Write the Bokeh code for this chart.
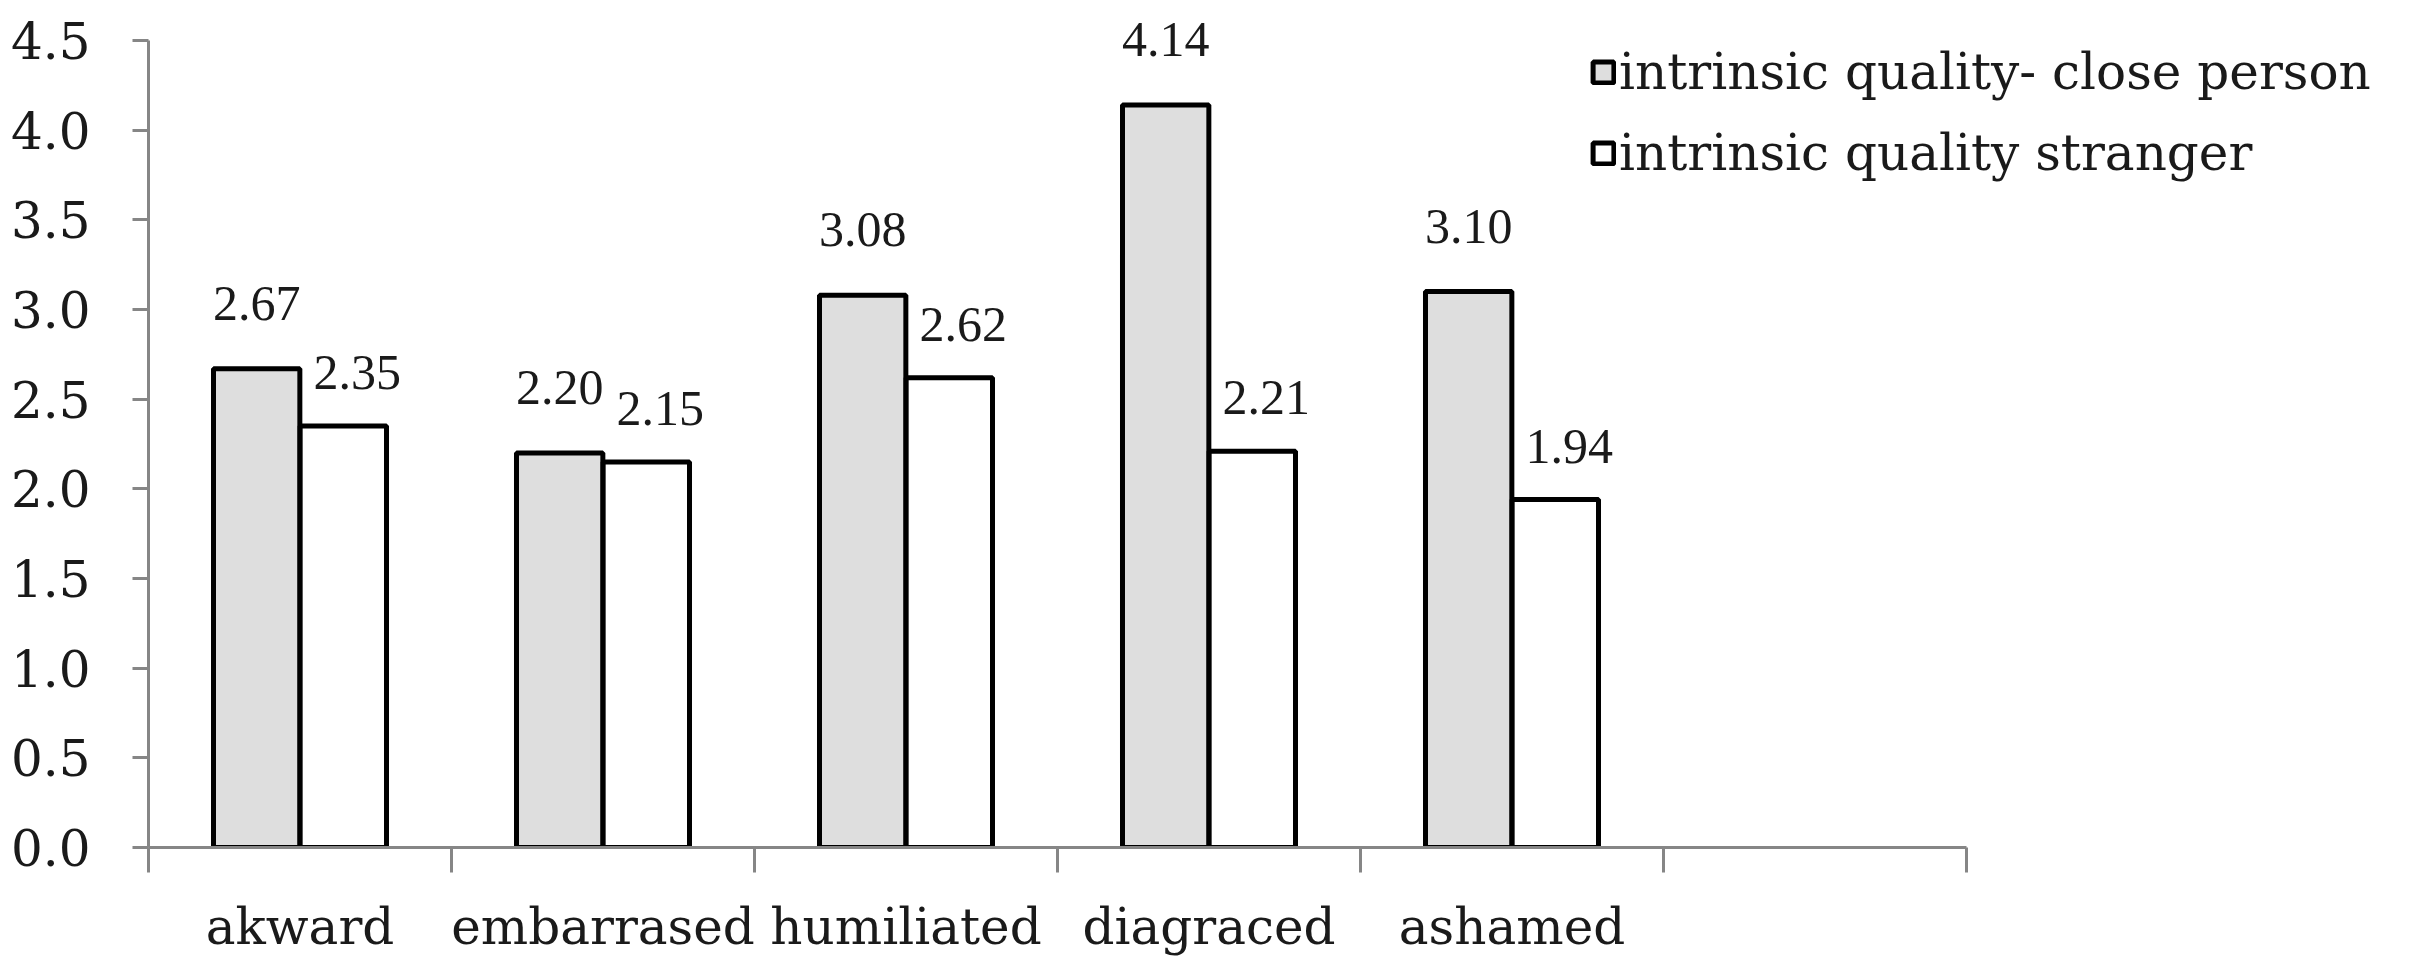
from bokeh.plotting import figure
from bokeh.models import (ColumnDataSource, FixedTicker, LabelSet, Legend,
                          LegendItem, Range1d)
from bokeh.transform import dodge
from bokeh.embed import file_html
from bokeh.resources import INLINE

# ---------------- data ----------------
categories = ["akward", "embarrased", "humiliated", "diagraced", "ashamed"]
close_person = [2.67, 2.20, 3.08, 4.14, 3.10]
stranger = [2.35, 2.15, 2.62, 2.21, 1.94]
series_names = ["intrinsic quality- close person", "intrinsic quality stranger"]
y_ticks = [0.0, 0.5, 1.0, 1.5, 2.0, 2.5, 3.0, 3.5, 4.0, 4.5]
n_slots = 6  # five categories plus one empty slot on the axis

FONT = "DejaVu Serif"
FS = "50px"
AXIS_COLOR = "#868686"
TEXT_COLOR = "#1a1a1a"

# ---------------- layout ----------------
W, H = 2400, 960
BL, BR, BT, BB = 148, 10, 0, 113
frame_w = W - BL - BR
frame_h = H - BT - BB
axis_px = 1818          # pixel length of the drawn x axis
top_px = 40             # pixel position of 4.5 below the frame top
x_end = n_slots * frame_w / axis_px
y_end = 4.5 * frame_h / (frame_h - top_px)

pos = [i + 0.5 for i in range(len(categories))]
src = ColumnDataSource(dict(
    pos=pos,
    cat=categories,
    close=close_person,
    stranger=stranger,
    close_lbl=[f"{v:.2f}" for v in close_person],
    stranger_lbl=[f"{v:.2f}" for v in stranger],
))

p = figure(width=W, height=H,
           x_range=Range1d(0, x_end), y_range=Range1d(0, y_end),
           output_backend="svg", toolbar_location=None,
           min_border_left=BL, min_border_right=BR,
           min_border_top=BT, min_border_bottom=BB)
p.outline_line_color = None
p.xgrid.visible = False
p.ygrid.visible = False
p.background_fill_color = "white"
p.border_fill_color = "white"

# ---------------- bars ----------------
off = 0.143
bw = 0.285
r1 = p.vbar(x=dodge("pos", -off, range=p.x_range), top="close", width=bw,
            source=src, fill_color="#DEDEDE", line_color="black", line_width=5)
r2 = p.vbar(x=dodge("pos", off, range=p.x_range), top="stranger", width=bw,
            source=src, fill_color="white", line_color="black", line_width=5)

# ---------------- data labels ----------------
lab1 = LabelSet(x=dodge("pos", -off, range=p.x_range), y="close", text="close_lbl",
                source=src, text_align="center", text_baseline="alphabetic",
                y_offset=49, text_font=FONT, text_font_size=FS, text_color=TEXT_COLOR)
lab2 = LabelSet(x=dodge("pos", off, range=p.x_range), y="stranger", text="stranger_lbl",
                source=src, text_align="center", text_baseline="alphabetic",
                y_offset=37, x_offset=14, text_font=FONT, text_font_size=FS,
                text_color=TEXT_COLOR)
p.add_layout(lab1)
p.add_layout(lab2)

# ---------------- axes ----------------
ya = p.yaxis[0]
ya.bounds = (0, 4.5)
ya.ticker = FixedTicker(ticks=y_ticks)
ya.major_label_overrides = {t: f"{t:.1f}" for t in y_ticks}
ya.major_tick_out = 16
ya.major_tick_in = 0
ya.minor_tick_line_color = None
ya.axis_line_color = AXIS_COLOR
ya.axis_line_width = 3
ya.major_tick_line_color = AXIS_COLOR
ya.major_tick_line_width = 3
ya.major_label_standoff = 42
ya.major_label_text_font = FONT
ya.major_label_text_font_size = FS
ya.major_label_text_color = TEXT_COLOR

xa = p.xaxis[0]
xa.bounds = (0, n_slots)
xa.ticker = FixedTicker(ticks=pos, minor_ticks=list(range(n_slots + 1)))
xa.major_label_overrides = {x: c for x, c in zip(pos, categories)}
xa.major_tick_line_color = None
xa.major_tick_out = 0
xa.major_tick_in = 0
xa.minor_tick_out = 25
xa.minor_tick_in = 0
xa.minor_tick_line_color = AXIS_COLOR
xa.minor_tick_line_width = 3
xa.axis_line_color = AXIS_COLOR
xa.axis_line_width = 3
xa.major_label_standoff = 25
xa.major_label_text_font = FONT
xa.major_label_text_font_size = FS
xa.major_label_text_color = TEXT_COLOR

# ---------------- legend ----------------
legend = Legend(items=[LegendItem(label=series_names[0], renderers=[r1]),
                       LegendItem(label=series_names[1], renderers=[r2])],
                location=(1442, 665),
                glyph_width=26, glyph_height=26, label_standoff=3,
                spacing=23, padding=0, margin=0,
                border_line_color=None, background_fill_alpha=0,
                label_text_font=FONT, label_text_font_size=FS,
                label_text_color=TEXT_COLOR)
p.add_layout(legend)

open("out.html", "w").write(file_html(p, INLINE))
